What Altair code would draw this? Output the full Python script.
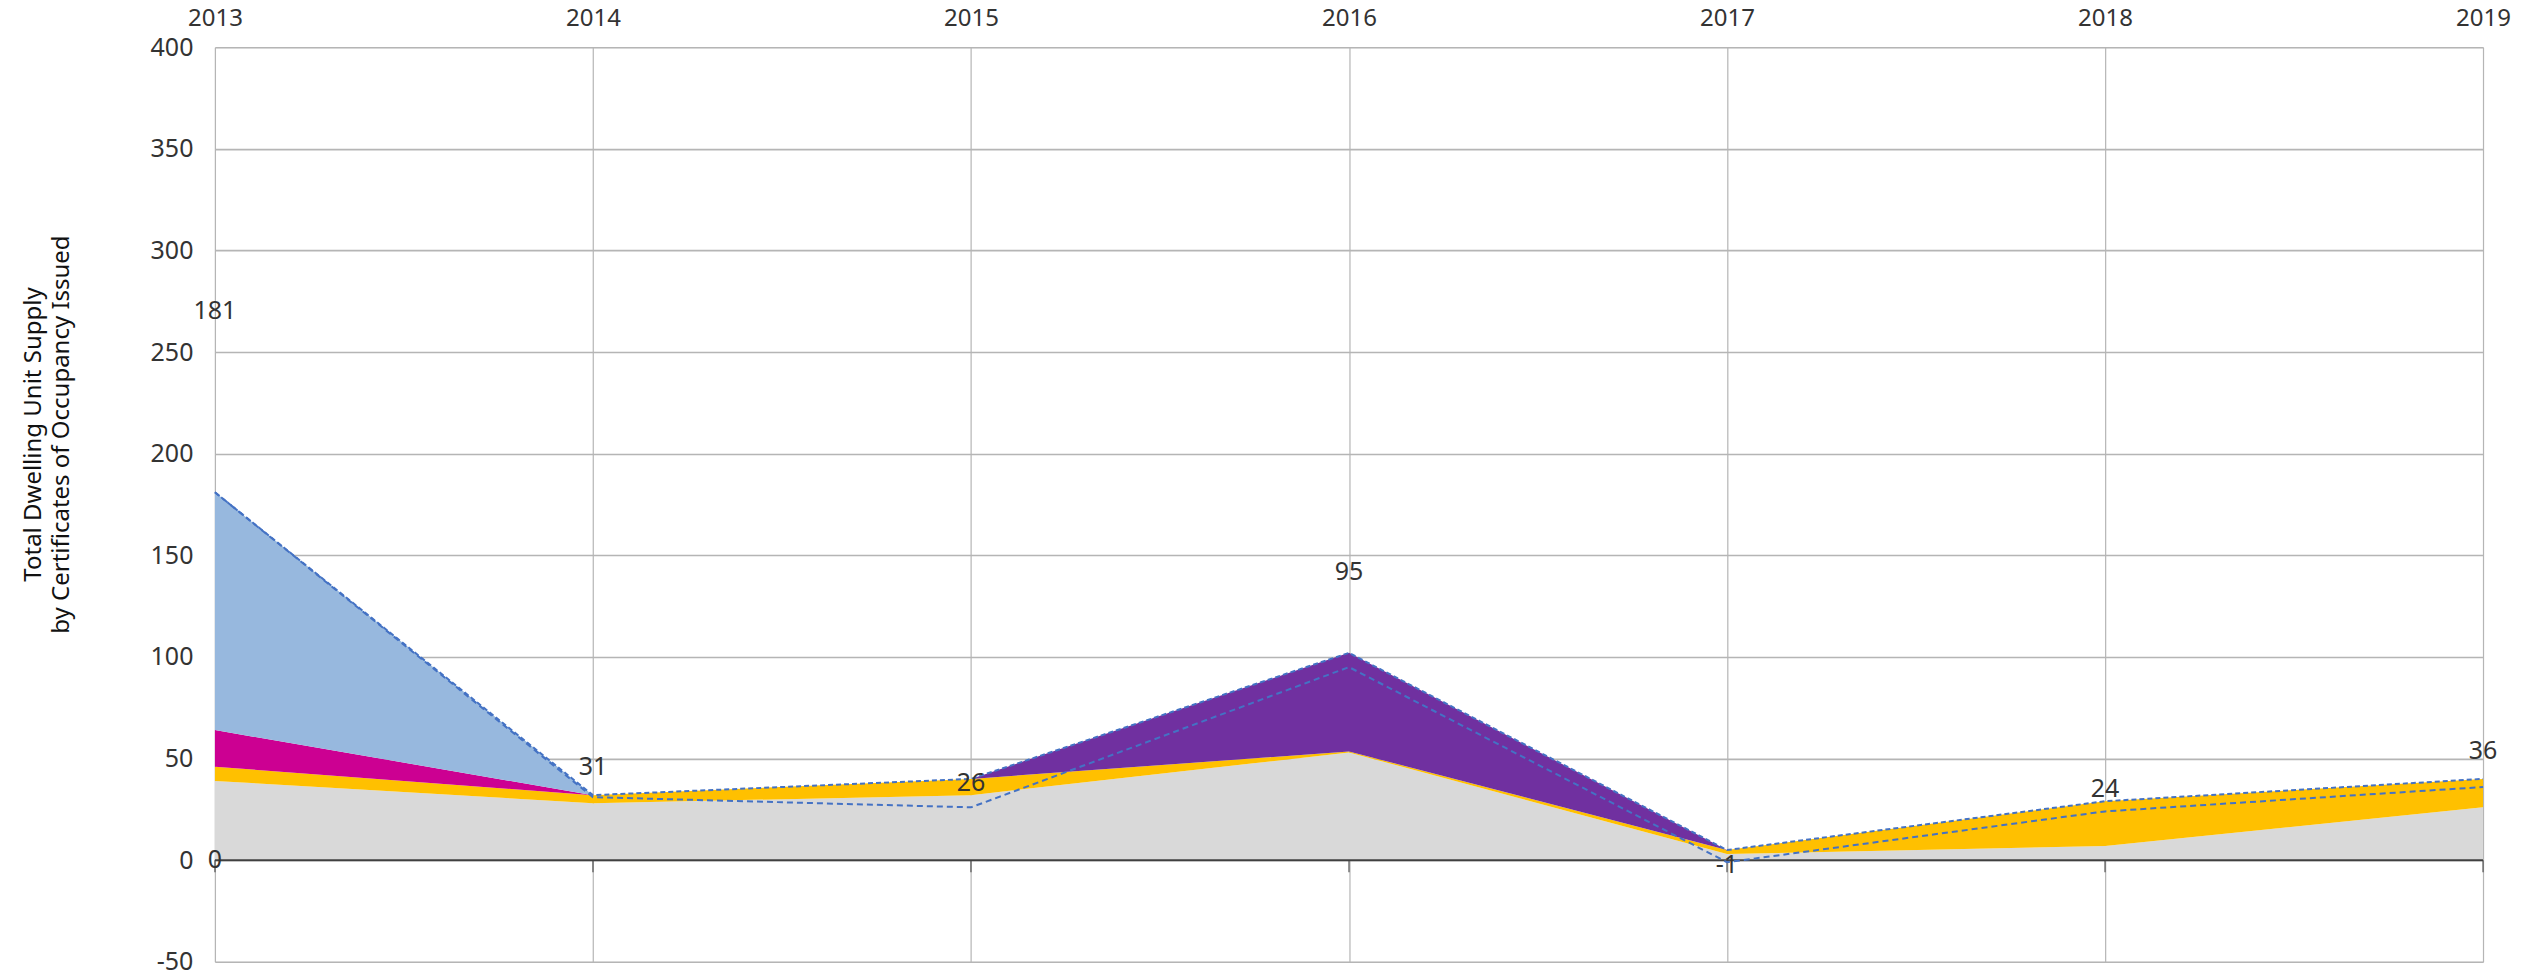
import altair as alt
import pandas as pd

years = [2013, 2014, 2015, 2016, 2017, 2018, 2019]
series_names = ["Base", "Yellow", "Magenta", "LightBlue", "Purple"]
base_vals = [39, 28, 32, 53, 3, 7, 26]
yellow_vals = [7, 4, 8, 0.5, 2, 22, 14]
magenta_vals = [18, 0, 0, 0, 0, 0, 0]
lightblue_vals = [117, 0, 0, 0, 0, 0, 0]
purple_vals = [0, 0, 0, 48.5, 0, 0, 0]
net_vals = [181, 31, 26, 95, -1, 24, 36]
net_label_at = [270, 46, 38, 142, -2.5, 35, 53.5]
zero_label = ["0"]
y_ticks = [-50, 0, 50, 100, 150, 200, 250, 300, 350, 400]

colors = ["#D9D9D9", "#FFC000", "#CC0092", "#97B8DE", "#7030A0"]

FONT = "Noto Sans, Liberation Sans, sans-serif"
TXT = "#333333"

rows = []
for name, vals in zip(series_names, [base_vals, yellow_vals, magenta_vals, lightblue_vals, purple_vals]):
    for yr, v in zip(years, vals):
        rows.append({"year": yr, "series": name, "value": v, "order": series_names.index(name)})
stack_df = pd.DataFrame(rows)
net_df = pd.DataFrame({"year": years, "net": net_vals, "label_at": net_label_at,
                       "label": [str(v) for v in net_vals]})
zero_df = pd.DataFrame({"year": [years[0]], "v": [0], "label": zero_label})
year_df = pd.DataFrame({"year": years})

xscale = alt.Scale(domain=[2013, 2019], nice=False, zero=False)
yscale = alt.Scale(domain=[-50, 400], nice=False)

x_axis = alt.Axis(orient="top", values=years, format="d", title=None, grid=True,
                  gridColor="#B5B5B5", gridWidth=1.2, domain=False, ticks=False, tickSize=0,
                  labelFlush=False, labelOverlap=False,
                  labelPadding=17, labelFont=FONT, labelFontSize=24, labelColor=TXT)
y_axis = alt.Axis(values=y_ticks, title=["Total Dwelling Unit Supply", "by Certificates of Occupancy Issued"],
                  labelExpr="'' + datum.value", labelFlush=False, labelOverlap=False,
                  grid=True, gridColor="#B5B5B5", gridWidth=1.6, domain=False, ticks=False, tickSize=0,
                  labelPadding=22, labelFont=FONT, labelFontSize=25, labelColor=TXT,
                  titleFont=FONT, titleFontSize=24, titleFontWeight="normal",
                  titleColor="#111111", titleX=-181, titleY=387, titleAlign="center",
                  titleBaseline="middle", titleLineHeight=28)

areas = alt.Chart(stack_df).mark_area(interpolate="linear", opacity=1).encode(
    x=alt.X("year:Q", scale=xscale, axis=x_axis),
    y=alt.Y("value:Q", stack="zero", scale=yscale, axis=y_axis),
    color=alt.Color("series:N", scale=alt.Scale(domain=series_names, range=colors), legend=None),
    order=alt.Order("order:Q"),
)

gross_line = alt.Chart(stack_df).mark_line(color="#4472C4", strokeWidth=2, strokeDash=[5, 3]).encode(
    x=alt.X("year:Q", scale=xscale),
    y=alt.Y("sum(value):Q", scale=yscale),
)

net_line = alt.Chart(net_df).mark_line(color="#4472C4", strokeWidth=2, strokeDash=[6, 4]).encode(
    x=alt.X("year:Q", scale=xscale),
    y=alt.Y("net:Q", scale=yscale),
)

net_text = alt.Chart(net_df).mark_text(font=FONT, fontSize=25, color=TXT, baseline="middle").encode(
    x=alt.X("year:Q", scale=xscale),
    y=alt.Y("label_at:Q", scale=yscale),
    text="label:N",
)

zero_text = alt.Chart(zero_df).mark_text(font=FONT, fontSize=25, color=TXT, baseline="middle").encode(
    x=alt.X("year:Q", scale=xscale),
    y=alt.Y("v:Q", scale=yscale),
    text="label:N",
)

zero_rule = alt.Chart(zero_df).mark_rule(color="#404040", strokeWidth=2).encode(
    y=alt.Y("v:Q", scale=yscale),
)

zero_ticks = alt.Chart(year_df).mark_tick(color="#404040", thickness=1.5, size=12, orient="vertical", yOffset=6).encode(
    x=alt.X("year:Q", scale=xscale),
    y=alt.Y("zero:Q", scale=yscale),
).transform_calculate(zero="0")

bottom_rule = alt.Chart(year_df).mark_rule(color="#B5B5B5", strokeWidth=2, yOffset=13).encode(
    y=alt.Y("b:Q", scale=yscale),
).transform_calculate(b="-50").transform_filter("datum.year == 2013")

chart = alt.layer(areas, zero_rule, zero_ticks, bottom_rule, gross_line, net_line, net_text, zero_text).properties(
    width=2269, height=915,
    autosize=alt.AutoSizeParams(type="none"),
    padding={"left": 207, "top": 39, "right": 30, "bottom": 10},
).configure_view(stroke=None).configure(background="white")

chart.save("out.html", embed_options={"renderer": "svg", "actions": False})
